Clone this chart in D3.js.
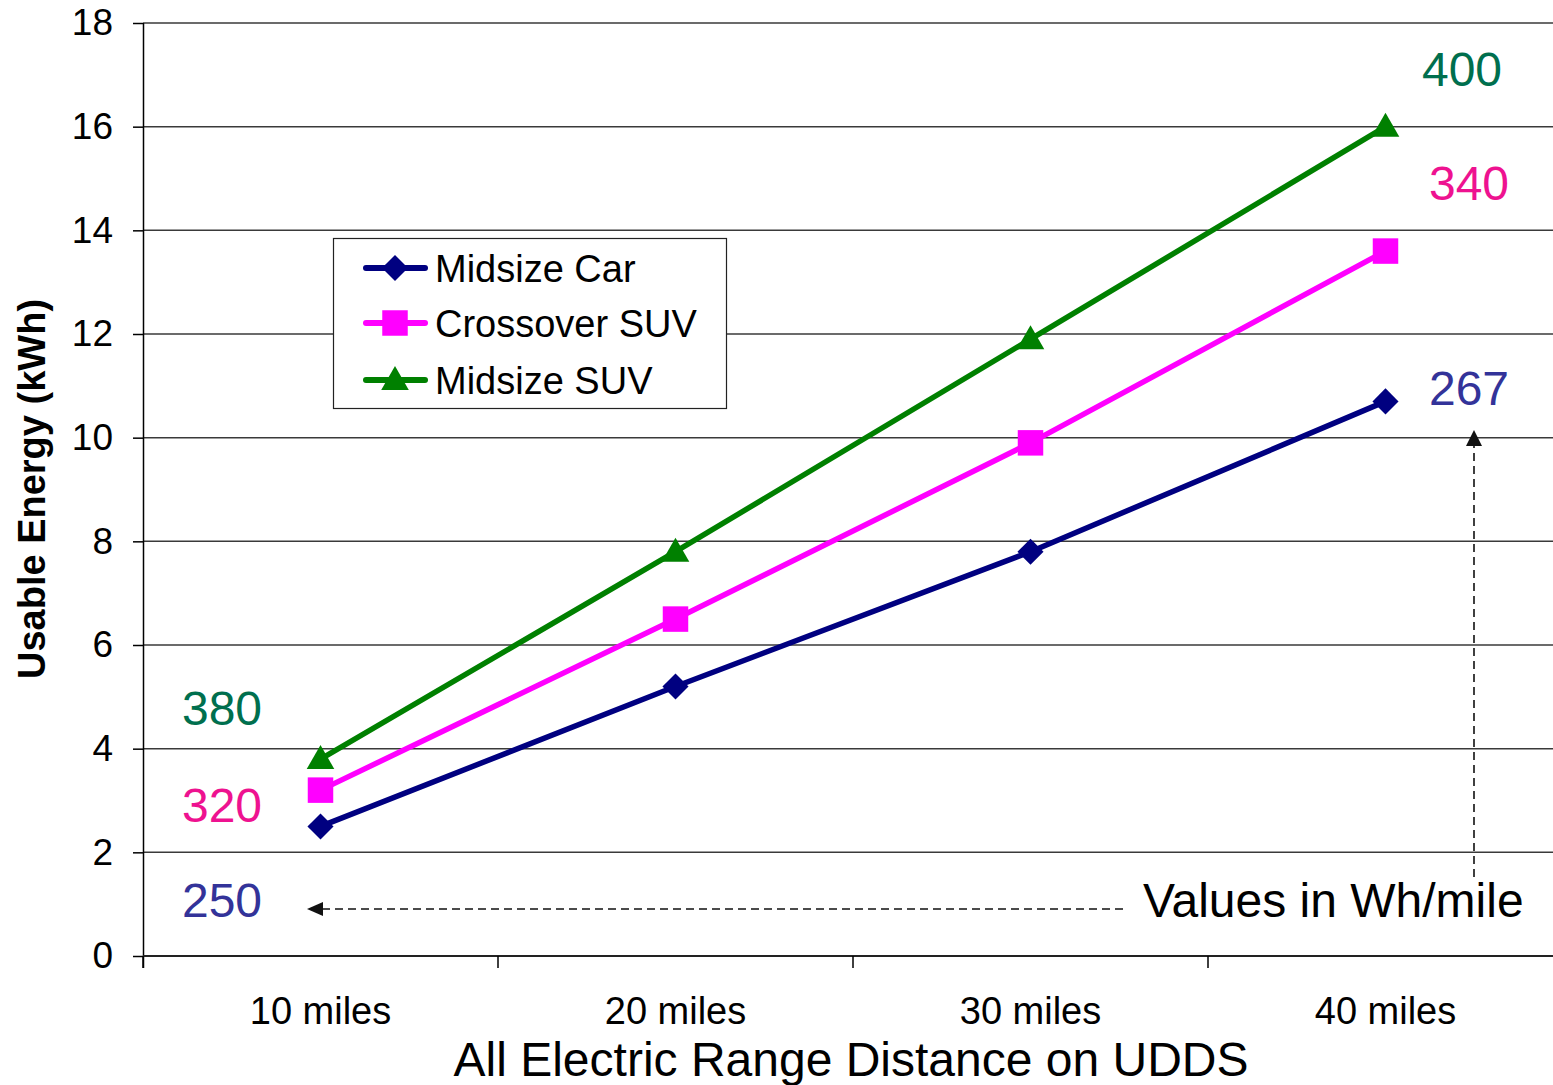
<!DOCTYPE html>
<html>
<head>
<meta charset="utf-8">
<script src="https://cdn.jsdelivr.net/npm/d3@7/dist/d3.min.js"></script>
<style>
  html, body { margin: 0; padding: 0; background: #fff; }
  svg { display: block; font-family: "Liberation Sans", Arial, sans-serif; }
</style>
</head>
<body>
<svg id="chart" width="1553" height="1085"></svg>
<script>
// Range categories on the UDDS cycle
const categories = ["10 miles", "20 miles", "30 miles", "40 miles"];

// Usable battery energy (kWh) by vehicle class
const seriesNames = ["Midsize Car", "Crossover SUV", "Midsize SUV"];
const midsizeCar = [2.5, 5.2, 7.8, 10.7];
const crossoverSUV = [3.2, 6.5, 9.9, 13.6];
const midsizeSUV = [3.8, 7.8, 11.9, 16.0];

// Energy consumption annotations (Wh/mile) at the 10-mile and 40-mile ends
const whPerMile10 = [250, 320, 380];
const whPerMile40 = [267, 340, 400];

const yTicks = [0, 2, 4, 6, 8, 10, 12, 14, 16, 18];

const colors = ["#000080", "#FF00FF", "#008000"];
const labelColors = ["#333399", "#EE1290", "#006F4E"];
// diamond = square rotated 45 degrees
const shapes = [d3.symbolSquare, d3.symbolSquare, d3.symbolTriangle];
const markerSize = [340, 650, 330];
const markerRotate = [45, 0, 0];
const markerShift = [0, 0, 2];

const svg = d3.select("#chart");
const plotLeft = 143, plotRight = 1563, plotTop = 23, plotBottom = 956;

const x = d3.scaleBand().domain(categories).range([plotLeft, plotRight]);
const y = d3.scaleLinear().domain([0, 18]).range([plotBottom, plotTop]);
const cx = d => x(d) + x.bandwidth() / 2;

// Horizontal gridlines
svg.append("g")
  .selectAll("line")
  .data(yTicks.filter(t => t > 0))
  .join("line")
  .attr("x1", plotLeft).attr("x2", 1553)
  .attr("y1", d => y(d)).attr("y2", d => y(d))
  .attr("stroke", "#3a3a3a").attr("stroke-width", 1.5);

// Y axis
const yAxis = svg.append("g")
  .attr("transform", `translate(${plotLeft},0)`)
  .call(d3.axisLeft(y).tickValues(yTicks).tickSize(10).tickPadding(20).tickFormat(d3.format("d")));
yAxis.select(".domain").attr("stroke", "#000").attr("stroke-width", 1.5)
  .attr("d", `M0.5,${plotTop}V${plotBottom + 12}`);
yAxis.selectAll(".tick line").attr("stroke", "#000").attr("stroke-width", 1.5);
yAxis.selectAll(".tick text").attr("font-size", 37).attr("fill", "#000")
  .attr("font-family", "Liberation Sans, Arial, sans-serif");

// X axis: line, ticks at band boundaries, labels at band centres
svg.append("line")
  .attr("x1", plotLeft).attr("x2", 1553)
  .attr("y1", plotBottom).attr("y2", plotBottom)
  .attr("stroke", "#222").attr("stroke-width", 2);
svg.append("g")
  .selectAll("line")
  .data(categories)
  .join("line")
  .attr("x1", d => x(d)).attr("x2", d => x(d))
  .attr("y1", plotBottom).attr("y2", plotBottom + 12)
  .attr("stroke", "#000").attr("stroke-width", 1.5);
svg.append("g")
  .selectAll("text")
  .data(categories)
  .join("text")
  .attr("x", d => cx(d))
  .attr("y", 1024)
  .attr("text-anchor", "middle")
  .attr("font-size", 38)
  .text(d => d);

// Axis titles
svg.append("text")
  .attr("x", 851).attr("y", 1076)
  .attr("text-anchor", "middle")
  .attr("font-size", 48)
  .text("All Electric Range Distance on UDDS");
svg.append("text")
  .attr("transform", "translate(45,489) rotate(-90)")
  .attr("text-anchor", "middle")
  .attr("font-size", 38)
  .attr("font-weight", "bold")
  .text("Usable Energy (kWh)");

// Series lines and markers
const seriesData = [midsizeCar, crossoverSUV, midsizeSUV];
const line = d3.line().x((d, i) => cx(categories[i])).y(d => y(d));

seriesData.forEach((vals, s) => {
  svg.append("path")
    .datum(vals)
    .attr("d", line)
    .attr("fill", "none")
    .attr("stroke", colors[s])
    .attr("stroke-width", 5.5)
    .attr("stroke-linejoin", "round");
});
seriesData.forEach((vals, s) => {
  svg.append("g")
    .selectAll("path")
    .data(vals)
    .join("path")
    .attr("transform", (d, i) =>
      `translate(${cx(categories[i])},${y(d) + markerShift[s]}) rotate(${markerRotate[s]})`)
    .attr("d", d3.symbol().type(shapes[s]).size(markerSize[s]))
    .attr("fill", colors[s]);
});

// Legend
const legend = svg.append("g");
legend.append("rect")
  .attr("x", 333.5).attr("y", 238.5).attr("width", 393).attr("height", 170)
  .attr("fill", "#fff").attr("stroke", "#222").attr("stroke-width", 1.2);
const legendRows = [268, 323, 380];
seriesNames.forEach((name, s) => {
  const ry = legendRows[s];
  legend.append("line")
    .attr("x1", 366).attr("x2", 425).attr("y1", ry).attr("y2", ry)
    .attr("stroke", colors[s]).attr("stroke-width", 6).attr("stroke-linecap", "round");
  legend.append("path")
    .attr("transform", `translate(395,${ry + markerShift[s]}) rotate(${markerRotate[s]})`)
    .attr("d", d3.symbol().type(shapes[s]).size(markerSize[s]))
    .attr("fill", colors[s]);
  legend.append("text")
    .attr("x", 435).attr("y", ry + 13.5)
    .attr("font-size", 38)
    .text(name);
});

// Wh/mile annotations
const leftLabelY = [917, 822, 725];
const rightLabelY = [405, 200, 86];
const rightLabelX = [1469, 1469, 1462];
whPerMile10.forEach((v, s) => {
  svg.append("text")
    .attr("x", 222).attr("y", leftLabelY[s])
    .attr("text-anchor", "middle")
    .attr("font-size", 48)
    .attr("fill", labelColors[s])
    .text(v);
});
whPerMile40.forEach((v, s) => {
  svg.append("text")
    .attr("x", rightLabelX[s]).attr("y", rightLabelY[s])
    .attr("text-anchor", "middle")
    .attr("font-size", 48)
    .attr("fill", labelColors[s])
    .text(v);
});

// Units note with dashed pointer arrows
svg.append("text")
  .attr("x", 1143).attr("y", 917)
  .attr("font-size", 48)
  .text("Values in Wh/mile");

const arrows = svg.append("g").attr("stroke", "#111").attr("stroke-width", 1.6)
  .attr("stroke-dasharray", "8,5");
arrows.append("line").attr("x1", 1123).attr("x2", 322).attr("y1", 909).attr("y2", 909);
arrows.append("line").attr("x1", 1474).attr("x2", 1474).attr("y1", 877).attr("y2", 446);
svg.append("path")
  .attr("d", "M307,909L323,902L323,916Z")
  .attr("fill", "#111");
svg.append("path")
  .attr("d", "M1474,430L1466,446L1482,446Z")
  .attr("fill", "#111");
</script>
</body>
</html>
